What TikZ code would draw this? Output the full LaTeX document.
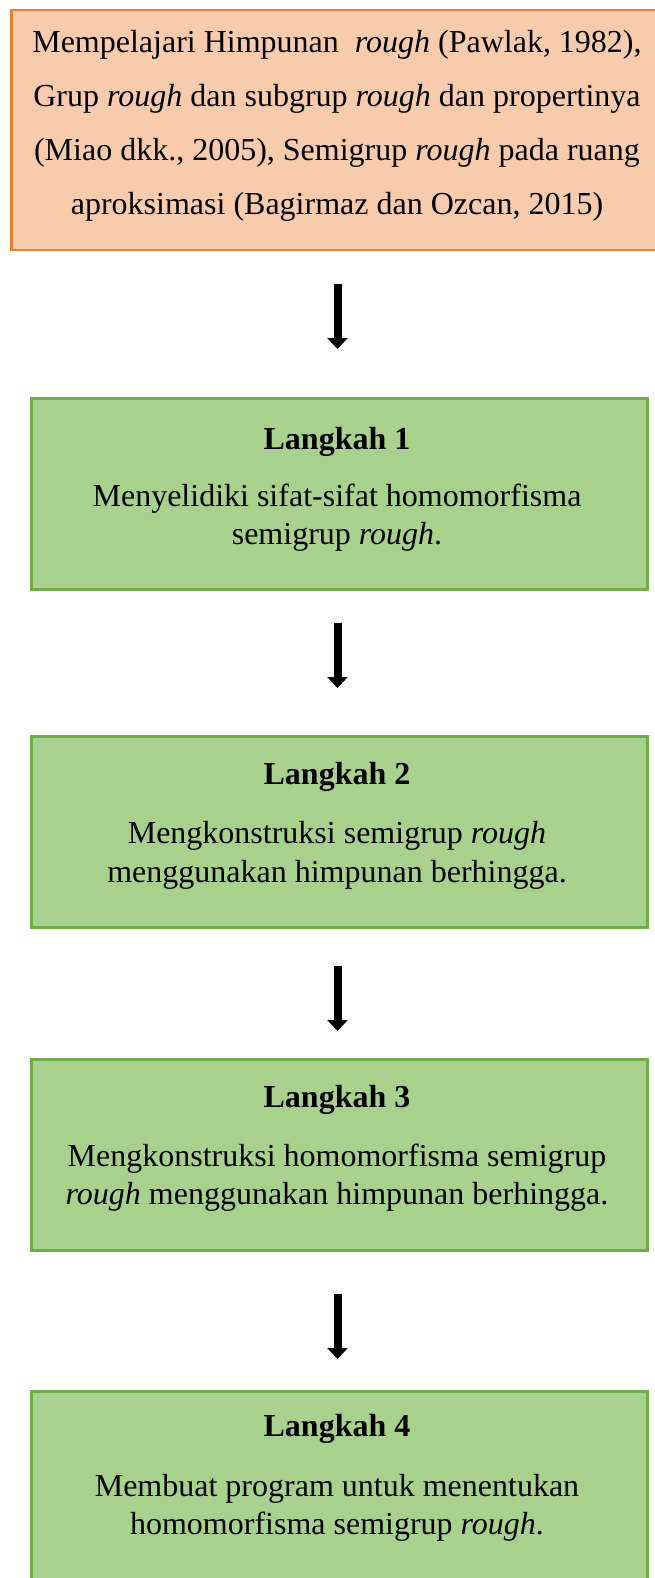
\documentclass[tikz,border=0pt]{standalone}
\usepackage{fontspec}
\setmainfont{Liberation Serif}
\usetikzlibrary{arrows.meta}
\definecolor{orfill}{HTML}{F8CBAD}
\definecolor{ordraw}{HTML}{ED7D31}
\definecolor{grfill}{HTML}{A9D18E}
\definecolor{grdraw}{HTML}{70AD47}
\tikzset{
  orangebox/.style={draw=ordraw, fill=orfill, line width=2.5pt, inner sep=0pt, anchor=north west},
  greenbox/.style={draw=grdraw, fill=grfill, line width=2.5pt, inner sep=0pt, anchor=north west, minimum width=616pt, minimum height=191pt},
  titletext/.style={font=\fontsize{32}{38}\selectfont\bfseries, inner sep=0pt, anchor=base},
  bodytext/.style={font=\fontsize{32}{38}\selectfont, inner sep=0pt, anchor=base, align=center},
  flowarrow/.style={line width=8pt, -{Triangle[width=20pt,length=11pt]}}
}
\begin{document}
\begin{tikzpicture}
\useasboundingbox (0,0) rectangle (654pt,-1578pt);
% top box
\node[orangebox, minimum width=648pt, minimum height=240pt] (top) at (10pt,-9pt) {};
\node[bodytext] (t1) at (337pt,-53pt) {Mempelajari Himpunan \ \textit{rough} (Pawlak, 1982),};
\node[bodytext] (t2) at (337pt,-107pt) {Grup \textit{rough} dan subgrup \textit{rough} dan propertinya};
\node[bodytext] (t3) at (337pt,-161pt) {(Miao dkk., 2005), Semigrup \textit{rough} pada ruang};
\node[bodytext] (t4) at (337pt,-215pt) {aproksimasi (Bagirmaz dan Ozcan, 2015)};
% box 1
\node[greenbox] (b1) at (30pt,-397pt) {};
\node[titletext] (h1) at (337pt,-449pt) {Langkah 1};
\node[bodytext] (l1a) at (337pt,-506pt) {Menyelidiki sifat-sifat homomorfisma};
\node[bodytext] (l1b) at (337pt,-544pt) {semigrup \textit{rough}.};
% box 2
\node[greenbox] (b2) at (30pt,-735pt) {};
\node[titletext] (h2) at (337pt,-784pt) {Langkah 2};
\node[bodytext] (l2a) at (337pt,-843pt) {Mengkonstruksi semigrup \textit{rough}};
\node[bodytext] (l2b) at (337pt,-882pt) {menggunakan himpunan berhingga.};
% box 3
\node[greenbox] (b3) at (30pt,-1058pt) {};
\node[titletext] (h3) at (337pt,-1107pt) {Langkah 3};
\node[bodytext] (l3a) at (337pt,-1166pt) {Mengkonstruksi homomorfisma semigrup};
\node[bodytext] (l3b) at (337pt,-1204pt) {\textit{rough} menggunakan himpunan berhingga.};
% box 4
\node[greenbox] (b4) at (30pt,-1390pt) {};
\node[titletext] (h4) at (337pt,-1436pt) {Langkah 4};
\node[bodytext] (l4a) at (337pt,-1496pt) {Membuat program untuk menentukan};
\node[bodytext] (l4b) at (337pt,-1534pt) {homomorfisma semigrup \textit{rough}.};
% arrows
\coordinate (a1s) at (337.5pt,-284pt); \coordinate (a1e) at (337.5pt,-349pt);
\coordinate (a2s) at (337.5pt,-623pt); \coordinate (a2e) at (337.5pt,-688pt);
\coordinate (a3s) at (337.5pt,-966pt); \coordinate (a3e) at (337.5pt,-1031pt);
\coordinate (a4s) at (337.5pt,-1294pt); \coordinate (a4e) at (337.5pt,-1359pt);
\draw[flowarrow] (a1s) -- (a1e);
\draw[flowarrow] (a2s) -- (a2e);
\draw[flowarrow] (a3s) -- (a3e);
\draw[flowarrow] (a4s) -- (a4e);
\end{tikzpicture}
\end{document}
